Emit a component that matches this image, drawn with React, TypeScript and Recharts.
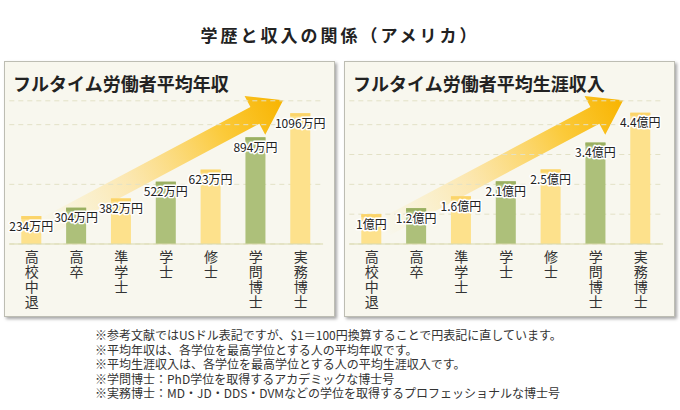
import { BarChart, Bar, XAxis, YAxis, CartesianGrid, LabelList } from "recharts";

const categories = ["高校中退", "高卒", "準学士", "学士", "修士", "学問博士", "実務博士"];
const annualIncome = [234, 304, 382, 522, 623, 894, 1096]; // 万円
const lifetimeIncome = [1, 1.2, 1.6, 2.1, 2.5, 3.4, 4.4]; // 億円
const annualTicks = [500, 1000];
const lifetimeTicks = [1, 2, 3, 4];

const notes = [
  "※参考文献ではUSドル表記ですが、$1＝100円換算することで円表記に直しています。",
  "※平均年収は、各学位を最高学位とする人の平均年収です。",
  "※平均生涯収入は、各学位を最高学位とする人の平均生涯収入です。",
  "※学問博士：PhD学位を取得するアカデミックな博士号",
  "※実務博士：MD・JD・DDS・DVMなどの学位を取得するプロフェッショナルな博士号",
];

const FONT = '"Noto Sans CJK JP", "Noto Sans", sans-serif';
const YELLOW = "#fde18c";
const YELLOW_CAP = "#fbd46a";
const GREEN = "#adc07a";
const GREEN_CAP = "#9bb062";

function VerticalTick({ x, y, payload }: any) {
  const chars = Array.from(String(payload.value));
  return (
    <g>
      {chars.map((c, i) => (
        <text key={i} x={x} y={y + 18 + i * 15} textAnchor="middle" fontSize={14} fill="#333" fontFamily={FONT}>
          {c}
        </text>
      ))}
    </g>
  );
}

function BarShape(props: any) {
  const { x, y, width, height, index } = props;
  const green = index % 2 === 1;
  return (
    <g>
      <rect x={x} y={y} width={width} height={height} fill={green ? GREEN : YELLOW} />
      <rect x={x} y={y} width={width} height={3} fill={green ? GREEN_CAP : YELLOW_CAP} />
    </g>
  );
}

function makeLabel(unit: string) {
  return (props: any) => {
    const { x, y, width, value } = props;
    return (
      <text
        x={x + width / 2}
        y={y + 14.5}
        textAnchor="middle"
        fontSize={12}
        fontFamily={FONT}
        fill="#222"
        stroke="#fff"
        strokeWidth={3}
        strokeLinejoin="round"
        paintOrder="stroke"
      >
        {value}
        {unit}
      </text>
    );
  };
}

function Arrow({ id }: { id: string }) {
  // drawn along x then rotated into place
  return (
    <svg width={340} height={320} style={{ position: "absolute", left: 0, top: 0 }}>
      <defs>
        <linearGradient id={id} x1="0" y1="0" x2="1" y2="0">
          <stop offset="0" stopColor="#fde9a0" stopOpacity={0} />
          <stop offset="0.35" stopColor="#fde3a0" stopOpacity={0.75} />
          <stop offset="0.75" stopColor="#fbca3a" />
          <stop offset="1" stopColor="#f8b400" />
        </linearGradient>
      </defs>
      <g transform="translate(43 228) rotate(-28)">
        <polygon points="0,-9.5 240,-9.5 240,-22 272,0 240,22 240,9.5 0,9.5" fill={`url(#${id})`} />
      </g>
    </svg>
  );
}

function Panel({
  title,
  values,
  unit,
  domainMax,
  ticks,
  offset,
  id,
}: {
  title: string;
  values: number[];
  unit: string;
  domainMax: number;
  ticks: number[];
  offset: number;
  id: string;
}) {
  const data = categories.map((name, i) => ({ name, value: values[i] }));
  return (
    <div style={{ position: "absolute", left: offset, top: 0, width: 340, height: 320 }}>
      <div
        style={{
          position: "absolute",
          left: 4,
          top: 61,
          width: 329,
          height: 254,
          background: "#f8f7ee",
          border: "1px solid #bdbdb3",
          boxShadow: "2px 2px 3px rgba(0,0,0,0.35)",
        }}
      />
      <div
        style={{
          position: "absolute",
          left: 13,
          top: 71,
          fontFamily: FONT,
          fontSize: 18,
          fontWeight: 700,
          color: "#222",
          lineHeight: "24px",
          whiteSpace: "nowrap",
        }}
      >
        {title}
      </div>
      <Arrow id={id} />
      <div style={{ position: "absolute", left: 0, top: 0 }}>
        <BarChart width={340} height={320} data={data} margin={{ top: 100.8, left: 9.3, right: 16.9, bottom: 6 }}>
          <CartesianGrid vertical={false} stroke="#e3e1c6" strokeDasharray="5 4" />
          <YAxis hide domain={[0, domainMax]} ticks={ticks} />
          <XAxis
            dataKey="name"
            height={70}
            tickLine={false}
            tickSize={0}
            tickMargin={0}
            axisLine={{ stroke: "#d9d9ad" }}
            interval={0}
            tick={<VerticalTick />}
          />
          <Bar dataKey="value" barSize={20} isAnimationActive={false} shape={<BarShape />}>
            <LabelList dataKey="value" content={makeLabel(unit)} />
          </Bar>
        </BarChart>
      </div>
    </div>
  );
}

export default function App() {
  return (
    <div style={{ position: "absolute", left: 0, top: 0, width: 680, height: 410, background: "#fff", fontFamily: FONT }}>
      <div
        style={{
          position: "absolute",
          left: 0,
          width: 680,
          top: 23,
          textAlign: "center",
          fontSize: 17,
          fontWeight: 700,
          letterSpacing: 3,
          color: "#222",
          lineHeight: "24px",
        }}
      >
        学歴と収入の関係（アメリカ）
      </div>
      <Panel title="フルタイム労働者平均年収" values={annualIncome} unit="万円" domainMax={1200} ticks={annualTicks} offset={0} id="arrowA" />
      <Panel title="フルタイム労働者平均生涯収入" values={lifetimeIncome} unit="億円" domainMax={4.8} ticks={lifetimeTicks} offset={340} id="arrowB" />
      <div
        style={{
          position: "absolute",
          left: 95,
          top: 328,
          fontSize: 12,
          lineHeight: "14.5px",
          color: "#333",
          whiteSpace: "nowrap",
        }}
      >
        {notes.map((n, i) => (
          <div key={i}>{n}</div>
        ))}
      </div>
    </div>
  );
}
